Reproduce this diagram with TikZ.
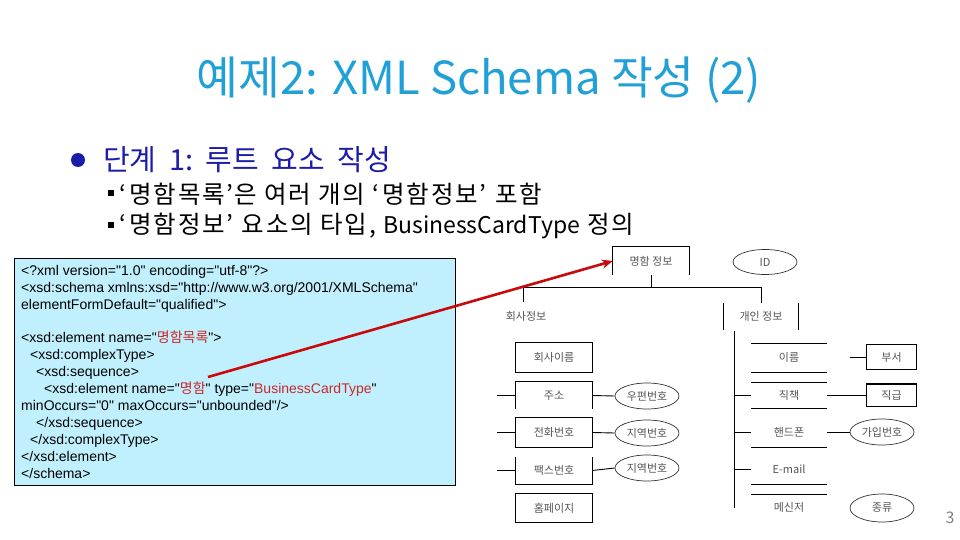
\documentclass[tikz,border=0pt]{standalone}
\usepackage{fontspec}
\setmainfont{Noto Sans CJK KR}
\newfontfamily\kr{Noto Sans CJK KR}
\newfontfamily\subfont[LetterSpace=8]{Noto Sans CJK KR}
\newfontfamily\arialf{Liberation Sans}
\usetikzlibrary{arrows.meta,shapes.geometric}
\definecolor{titleblue}{RGB}{32,160,215}
\definecolor{stepblue}{RGB}{28,28,170}
\definecolor{codebg}{RGB}{192,240,253}
\definecolor{codered}{RGB}{204,40,40}
\definecolor{arrowred}{RGB}{200,10,10}
\definecolor{diagray}{RGB}{85,85,85}
\newcommand\myoq{‘\hspace{3pt}}
\newcommand\mycq{\hspace{1pt}’\hspace{2pt}}
\newcommand\latw[1]{{\kr\fontsize{23}{28}\selectfont #1}}
\newcommand\widesp{\spaceskip=7pt plus 1pt\relax}
\tikzset{
  lbl/.style={inner sep=0pt, text=diagray, font=\kr\fontsize{11}{12}\selectfont},
  item/.style={lbl, minimum width=76pt},
  ell/.style={ellipse, draw=black!80, line width=0.7pt, minimum width=64pt, minimum height=26pt, inner sep=0pt, text=diagray, font=\kr\fontsize{11}{12}\selectfont},
  ln/.style={line width=0.9pt, draw=black},
  sub/.style={anchor=west, inner sep=0pt, font=\subfont\fontsize{24.5}{28}\selectfont\widesp},
  sqb/.style={fill=black, minimum size=5.5pt, inner sep=0pt},
  rd/.style={text=codered}
}
\begin{document}
\begin{tikzpicture}[x=1pt,y=-1pt]
\useasboundingbox (0,0) rectangle (960,540);
% title
\node[text=titleblue, font=\fontsize{45.5}{50}\selectfont, inner sep=0pt] (title) at (479,80) {예제2: XML Schema 작성 (2)};
% bullet
\node[circle, fill=stepblue, minimum size=14pt, inner sep=0pt] (b1) at (78,160) {};
\node[anchor=west, inner sep=0pt, text=stepblue, font=\fontsize{29}{32}\selectfont] (step1) at (103,160) {단계\hspace{6pt} 1:\hspace{4pt} 루트\hspace{6pt} 요소\hspace{6pt} 작성};
\node[sqb] (s1) at (111,193) {};
\node[sub] (t1) at (119,194) {\myoq 명함목록\mycq 은 여러 개의 \myoq 명함정보\mycq\ 포함};
\node[sqb] (s2) at (111,225) {};
\node[sub] (t2) at (119,226) {\myoq 명함정보\mycq\ 요소의 타입, \latw{BusinessCardType} 정의};
% code box
\node[draw=black, line width=0.9pt, fill=codebg, minimum width=441pt, minimum height=227pt, inner sep=0pt] (codebox) at (234.5,371.5) {};
\node[anchor=north west, inner sep=0pt, align=left, font=\arialf\fontsize{14}{16.9}\selectfont] (code) at (21,265) {%
<?xml version="1.0" encoding="utf-8"?>\\
<xsd:schema xmlns:xsd="http://www.w3.org/2001/XMLSchema"\\
elementFormDefault="qualified">\\
\mbox{}\\
<xsd:element name="{\kr\color{codered}명함목록}">\\
\hspace*{9pt}<xsd:complexType>\\
\hspace*{15pt}<xsd:sequence>\\
\hspace*{23pt}<xsd:element name="{\kr\color{codered}명함}" type="{\color{codered}BusinessCardType}"\\
minOccurs="0" maxOccurs="unbounded"/>\\
\hspace*{15pt}</xsd:sequence>\\
\hspace*{9pt}</xsd:complexType>\\
</xsd:element>\\
</schema>};
\coordinate (src) at (208,377);
% diagram
\node[lbl, minimum width=76pt, minimum height=28pt] (card) at (651,261) {명함 정보};
\draw[ln] (card.south west) -- (card.north west) -- (card.north east) -- (card.south east);
\node[ell, minimum height=25pt] (id) at (765,262) {ID};
\node[lbl] (company) at (526,316) {회사정보};
\node[lbl, minimum width=75pt, minimum height=27pt] (personal) at (761,316.5) {개인 정보};
\draw[ln] (personal.north west) -- (personal.south west) (personal.north east) -- (personal.south east);
\coordinate (ctop) at (523,302);
\draw[ln] (card.south) -- ++(0,12) coordinate (bus);
\draw[ln] (ctop) |- (bus) -| (personal.north);
% left column
\node[item, minimum height=29pt] (coname) at (554,357.5) {회사이름};
\draw[ln] (coname.south west) rectangle (coname.north east);
\node[item, minimum height=27pt] (addr) at (554,395.5) {주소};
\draw[ln] (addr.south west) -- (addr.north west) -- (addr.north east) -- (addr.south east);
\node[item, minimum height=29pt] (tel) at (554,432.5) {전화번호};
\draw[ln] (tel.south west) rectangle (tel.north east);
\node[item, minimum height=27pt] (fax) at (554,470.5) {팩스번호};
\draw[ln] (fax.north west) -- (fax.south west) -- (fax.south east) -- (fax.north east);
\node[item, minimum height=28pt] (home) at (554,508) {홈페이지};
\draw[ln] (home.south west) rectangle (home.north east);
\coordinate (lstub) at (497,0);
\draw[ln] (addr.west) -- (addr.west -| lstub);
\draw[ln] (tel.west) -- (tel.west -| lstub);
\draw[ln] (fax.west) -- (fax.west -| lstub);
\node[ell] (zip) at (647,396) {우편번호};
\node[ell] (area1) at (647,433) {지역번호};
\node[ell] (area2) at (647,468) {지역번호};
\draw[ln] (addr.east) -- (zip.west);
\draw[ln] (tel.east) -- (area1.west);
\draw[ln] (fax.east) -- (area2.west);
% right column
\coordinate (vtop) at (734,331);
\coordinate (vbot) at (734,508);
\draw[ln] (vtop) -- (vbot);
\node[item, minimum height=29pt] (name) at (789,357.5) {이름};
\node[item] (duty) at (789,395) {직책};
\node[item] (phone) at (789,432) {핸드폰};
\node[item] (email) at (789,469) {E-mail};
\node[item] (msg) at (789,507) {메신저};
\foreach \yy in {343,372,382,408,447,484,494}{\draw[ln] (751,\yy) -- (827,\yy);}
\draw[ln] (duty.west) -- (duty.west -| vtop);
\draw[ln] (phone.west) -- (phone.west -| vtop);
\draw[ln] (email.west) -- (email.west -| vtop);
\node[lbl, minimum width=49pt, minimum height=24pt] (dept) at (891.5,357) {부서};
\draw[ln] (dept.south west) rectangle (dept.north east);
\coordinate (nstub) at (850,357);
\draw[ln] (nstub) -- (dept.west);
\node[lbl, minimum width=49pt, minimum height=22pt] (rank) at (891.5,395) {직급};
\draw[ln] (rank.south west) rectangle (rank.north east);
\draw[line width=2pt] (rank.north west) -- (rank.north east);
\draw[ln] (duty.east) -- (rank.west);
\node[ell] (join) at (882,432) {가입번호};
\draw[ln] (phone.east) -- (join.west);
\node[ell, minimum height=28pt] (kind) at (882,508) {종류};
% arrow
\draw[arrowred, line width=2.6pt, -{Stealth[length=11pt,width=9pt]}] (src) -- (card.west);
% page number
\node[text=gray, font=\fontsize{16}{16}\selectfont, inner sep=0pt] (pg) at (950,518) {3};
\end{tikzpicture}
\end{document}
